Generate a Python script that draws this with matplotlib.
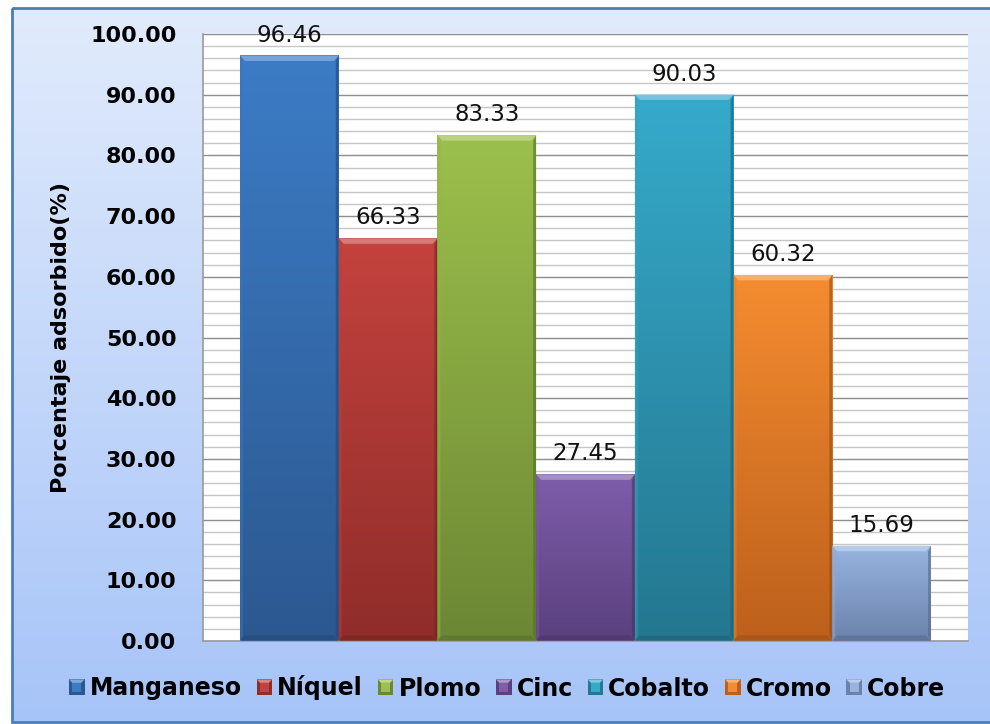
import numpy as np
import matplotlib
matplotlib.use("Agg")
import matplotlib.pyplot as plt
from matplotlib.colors import LinearSegmentedColormap, to_rgb
from matplotlib.patches import Rectangle, Polygon
from matplotlib.legend_handler import HandlerBase

# ---- data -------------------------------------------------------------
metales = ["Manganeso", "Níquel", "Plomo", "Cinc", "Cobalto", "Cromo", "Cobre"]
porcentaje = [96.46, 66.33, 83.33, 27.45, 90.03, 60.32, 15.69]
y_ticks = np.arange(0, 101, 10)

# top / bottom shades for each metal's bar
color_claro = ["#3c7cc6", "#c4423e", "#9cc04c", "#7e5daa", "#36aacb", "#f58c30", "#97b4e0"]
color_oscuro = ["#2c5890", "#8f2d2a", "#6c8734", "#5a407e", "#24778f", "#bc601c", "#6b83ab"]

plt.rcParams["font.family"] = ["DejaVu Sans"]

W, H = 990, 724
fig = plt.figure(figsize=(W / 100, H / 100), dpi=100)
fig.patch.set_facecolor("white")

# ---- chart panel background with vertical gradient -------------------
bg = fig.add_axes([0, 0, 1, 1], zorder=0)
bg.set_axis_off()
bg.set_xlim(0, W)
bg.set_ylim(H, 0)
panel = (12, 8, 992, 722)
grad = np.linspace(0, 1, 256).reshape(-1, 1)
bg_cmap = LinearSegmentedColormap.from_list("panel", ["#e1ebfc", "#a7c4f8"])
bg.imshow(grad, extent=[panel[0], panel[2], panel[3], panel[1]], cmap=bg_cmap,
          aspect="auto", origin="upper", interpolation="bicubic")
bg.add_patch(Rectangle((panel[0], panel[1]), panel[2] - panel[0], panel[3] - panel[1],
                       fill=False, edgecolor="#4a7ebb", lw=2))

# ---- plot area ---------------------------------------------------------
ax = fig.add_axes([203 / W, 1 - 641 / H, 765 / W, 607 / H], zorder=1)
ax.set_facecolor("white")
n = len(metales)
margen = 0.375
ax.set_xlim(-0.5 - margen, n - 0.5 + margen)
ax.set_ylim(0, 100)

ax.set_yticks(y_ticks)
ax.set_yticklabels([f"{v:.2f}" for v in y_ticks], fontsize=16, fontweight="bold")
ax.set_yticks(np.arange(0, 101, 2), minor=True)
ax.tick_params(axis="y", which="both", length=0, pad=19)
ax.set_xticks([])
ax.grid(axis="y", which="minor", color="#c6c6c6", lw=1.0)
ax.grid(axis="y", which="major", color="#8e8e8e", lw=1.0)
ax.set_axisbelow(True)
for s in ("top", "right"):
    ax.spines[s].set_visible(False)
for s in ("left", "bottom"):
    ax.spines[s].set_color("#9a9a9a")
    ax.spines[s].set_linewidth(1.2)

ax.set_ylabel("Porcentaje adsorbido(%)", fontsize=16, fontweight="bold")
ax.yaxis.set_label_coords(-0.172, 0.5)


def mezcla(c, f):
    """Blend colour c toward white (f>0) or black (f<0)."""
    r = np.array(to_rgb(c))
    return tuple(r + (1 - r) * f) if f > 0 else tuple(r * (1 + f))


# ---- bars with gradient and bevel --------------------------------------
bx = 0.05   # bevel width in x data units
by = 0.9    # bevel height in y data units
for i, (v, c1, c2) in enumerate(zip(porcentaje, color_claro, color_oscuro)):
    x0, x1 = i - 0.5, i + 0.5
    rect = Rectangle((x0, 0), 1, v, facecolor="none", edgecolor="none")
    ax.add_patch(rect)
    cmap = LinearSegmentedColormap.from_list(f"b{i}", [c2, c1])
    im = ax.imshow(np.linspace(0, 1, 256).reshape(-1, 1), extent=[x0, x1, 0, v],
                   origin="lower", cmap=cmap, aspect="auto", zorder=2,
                   interpolation="bicubic")
    im.set_clip_path(rect)
    # bevel: light top, slightly darker sides and base
    ax.add_patch(Polygon([(x0, v), (x1, v), (x1 - bx, v - by), (x0 + bx, v - by)],
                         closed=True, facecolor=mezcla(c1, 0.3), edgecolor="none", zorder=3))
    ax.add_patch(Polygon([(x0, 0), (x0 + bx * 0.6, by), (x0 + bx * 0.6, v - by), (x0, v)],
                         closed=True, facecolor=mezcla(c1, -0.05), alpha=0.5,
                         edgecolor="none", zorder=3))
    ax.add_patch(Polygon([(x1, 0), (x1 - bx * 0.6, by), (x1 - bx * 0.6, v - by), (x1, v)],
                         closed=True, facecolor=mezcla(c2, -0.2), alpha=0.6,
                         edgecolor="none", zorder=3))
    ax.add_patch(Polygon([(x0, 0), (x1, 0), (x1 - bx, by), (x0 + bx, by)],
                         closed=True, facecolor=mezcla(c2, -0.15), alpha=0.7,
                         edgecolor="none", zorder=3))
    ax.annotate(f"{v:.2f}", xy=(i, v), xytext=(0, 10), textcoords="offset points",
                ha="center", va="baseline", fontsize=16.5, color="#111111", zorder=4)


# ---- legend with small bevelled squares ---------------------------------
class CuadroBisel(HandlerBase):
    def __init__(self, claro, oscuro):
        super().__init__()
        self.claro, self.oscuro = claro, oscuro

    def create_artists(self, legend, orig_handle, xdescent, ydescent, width, height,
                       fontsize, trans):
        s = min(width, height) * 0.95
        x0 = -xdescent + (width - s) / 2
        y0 = -ydescent + (height - s) / 2
        b = s * 0.22
        arts = [Rectangle((x0, y0), s, s, facecolor=self.oscuro, edgecolor="none",
                          transform=trans),
                Polygon([(x0, y0 + s), (x0 + s, y0 + s), (x0 + s - b, y0 + s - b),
                         (x0 + b, y0 + s - b)], closed=True,
                        facecolor=mezcla(self.claro, 0.35), edgecolor="none", transform=trans),
                Rectangle((x0 + b, y0 + b), s - 2 * b, s - 2 * b, facecolor=self.claro,
                          edgecolor="none", transform=trans)]
        return arts


handles = [Rectangle((0, 0), 1, 1) for _ in metales]
hmap = {h: CuadroBisel(c1, c2) for h, c1, c2 in zip(handles, color_claro, color_oscuro)}
fig.legend(handles, metales, handler_map=hmap, loc="center",
           bbox_to_anchor=(507 / W, 1 - 688 / H), ncol=n, frameon=False,
           prop={"size": 17, "weight": "bold"}, handlelength=0.7, handleheight=0.7,
           handletextpad=0.2, columnspacing=0.6)

fig.savefig("out.png", dpi=100)
